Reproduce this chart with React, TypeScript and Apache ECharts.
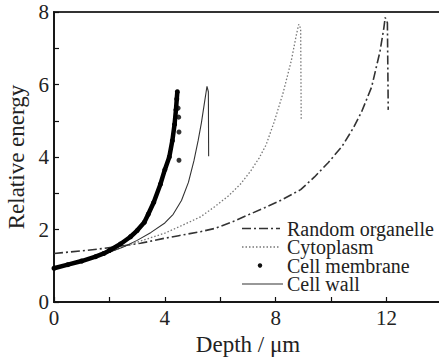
import React, { useEffect, useRef } from "react";
import * as echarts from "echarts";

const SERIF = "Liberation Serif, Times New Roman, serif";

const randomOrganelle: [number, number][] = [
  [0, 1.34], [1, 1.41], [1.81, 1.48], [2.5, 1.55], [3.12, 1.62], [4, 1.76], [4.5, 1.83],
  [5.29, 1.94], [5.8, 2.03], [6.4, 2.2], [7, 2.4], [7.6, 2.6], [8.2, 2.81], [8.9, 3.1],
  [9.4, 3.45], [9.9, 3.85], [10.4, 4.3], [10.8, 4.8], [11.1, 5.25], [11.46, 5.93],
  [11.76, 6.9], [11.9, 7.55], [11.95, 7.85], [12.03, 7.7], [12.06, 5.3],
];

const cytoplasm: [number, number][] = [
  [0, 0.95], [1, 1.13], [2, 1.38], [2.6, 1.55], [3.24, 1.71], [4, 1.9], [4.5, 2.07],
  [5.29, 2.35], [5.8, 2.63], [6.3, 2.93], [6.75, 3.27], [7.1, 3.62], [7.4, 3.97],
  [7.65, 4.33], [7.95, 4.98], [8.26, 5.75], [8.56, 6.65], [8.74, 7.35], [8.83, 7.66],
  [8.9, 7.55], [8.92, 5.05],
];

const cellMembrane: [number, number][] = [
  [0, 0.93], [0.5, 1.03], [1, 1.13], [1.5, 1.25], [1.8, 1.34], [2, 1.42], [2.4, 1.6],
  [2.76, 1.8], [3, 1.97], [3.26, 2.2], [3.4, 2.42], [3.6, 2.75], [3.84, 3.25], [4.0, 3.65],
  [4.16, 4.0], [4.27, 4.45], [4.35, 4.9], [4.4, 5.3], [4.43, 5.6], [4.45, 5.8],
];

const cellMembraneOutliers: [number, number][] = [
  [4.51, 4.69], [4.51, 3.91], [4.5, 5.1], [4.48, 5.35],
];

const cellWall: [number, number][] = [
  [0, 0.93], [0.5, 1.02], [1, 1.12], [1.5, 1.24], [2, 1.37], [2.5, 1.52], [3, 1.7],
  [3.5, 1.92], [4, 2.18], [4.3, 2.42], [4.6, 2.8], [4.85, 3.3], [5.05, 3.9], [5.2, 4.45],
  [5.32, 4.95], [5.42, 5.45], [5.49, 5.8], [5.52, 5.95], [5.57, 5.8], [5.58, 4.02],
];

const legendNames = ["Random organelle", "Cytoplasm", "Cell membrane", "Cell wall"];

export default function App() {
  const ref = useRef<HTMLDivElement>(null);
  useEffect(() => {
    if (!ref.current) return;
    const chart = echarts.init(ref.current, null, { renderer: "svg" });
    const legendY = [228.5, 247, 265.5, 284];
    const legendGraphics: any[] = [
      {
        type: "line",
        shape: { x1: 242, y1: legendY[0], x2: 280, y2: legendY[0] },
        style: { stroke: "#333", lineWidth: 1.6, lineDash: [9, 3, 2, 3] },
      },
      {
        type: "line",
        shape: { x1: 242, y1: legendY[1], x2: 280, y2: legendY[1] },
        style: { stroke: "#777", lineWidth: 1.3, lineDash: [1.5, 2] },
      },
      {
        type: "circle",
        shape: { cx: 260, cy: legendY[2], r: 2.2 },
        style: { fill: "#111" },
      },
      {
        type: "line",
        shape: { x1: 242, y1: legendY[3], x2: 283, y2: legendY[3] },
        style: { stroke: "#333", lineWidth: 1.2 },
      },
      ...legendNames.map((n, i) => ({
        type: "text",
        x: 287,
        y: legendY[i],
        style: {
          text: n,
          fill: "#222",
          fontFamily: SERIF,
          fontSize: 20,
          lineHeight: 17,
          verticalAlign: "middle",
          align: "left",
        },
      })),
    ];
    chart.setOption({
      animation: false,
      backgroundColor: "#fff",
      textStyle: { fontFamily: SERIF },
      grid: {
        left: 54,
        top: 12,
        width: 388,
        height: 290,
        outerBoundsMode: "none",
        containLabel: false,
        show: true,
        borderColor: "#333",
        borderWidth: 2,
        backgroundColor: "transparent",
      },
      xAxis: {
        type: "value",
        min: 0,
        max: 14,
        interval: 2,
        name: "Depth / μm",
        nameLocation: "middle",
        nameGap: 29,
        nameTextStyle: { fontFamily: SERIF, fontSize: 23, color: "#222" },
        axisLine: { lineStyle: { color: "#111", width: 1.5 } },
        axisTick: { inside: true, length: 5, lineStyle: { color: "#111", width: 1.2 } },
        axisLabel: {
          fontFamily: SERIF,
          fontSize: 21,
          color: "#222",
          margin: 5,
          formatter: (v: number) => (v % 4 === 0 && v < 14 ? String(v) : ""),
        },
        splitLine: { show: false },
      },
      yAxis: {
        type: "value",
        min: 0,
        max: 8,
        interval: 1,
        name: "Relative energy",
        nameLocation: "middle",
        nameGap: 26,
        nameTextStyle: { fontFamily: SERIF, fontSize: 23, color: "#222" },
        axisLine: { lineStyle: { color: "#111", width: 1.5 } },
        axisTick: { inside: true, length: 5, lineStyle: { color: "#111", width: 1.2 } },
        axisLabel: {
          fontFamily: SERIF,
          fontSize: 21,
          color: "#222",
          margin: 5,
          formatter: (v: number) => (v % 2 === 0 ? String(v) : ""),
        },
        splitLine: { show: false },
      },
      series: [
        {
          name: "Random organelle",
          type: "line",
          data: randomOrganelle,
          showSymbol: false,
          lineStyle: { color: "#333", width: 1.6, type: [9, 3, 2, 3] },
          z: 2,
        },
        {
          name: "Cytoplasm",
          type: "line",
          data: cytoplasm,
          showSymbol: false,
          lineStyle: { color: "#777", width: 1.3, type: [1.5, 2] },
          z: 2,
        },
        {
          name: "Cell membrane",
          type: "line",
          data: cellMembrane,
          symbol: "circle",
          symbolSize: 5,
          showAllSymbol: true,
          itemStyle: { color: "#000" },
          lineStyle: { color: "#000", width: 4.5 },
          z: 3,
        },
        {
          name: "Cell membrane",
          type: "scatter",
          data: cellMembraneOutliers,
          symbol: "circle",
          symbolSize: 5,
          itemStyle: { color: "#000" },
          z: 3,
        },
        {
          name: "Cell wall",
          type: "line",
          data: cellWall,
          showSymbol: false,
          lineStyle: { color: "#333", width: 1.1 },
          z: 2,
        },
      ],
      graphic: legendGraphics,
    });
    return () => chart.dispose();
  }, []);
  return (
    <div
      ref={ref}
      style={{ position: "absolute", left: 0, top: 0, width: 439, height: 363 }}
    />
  );
}
